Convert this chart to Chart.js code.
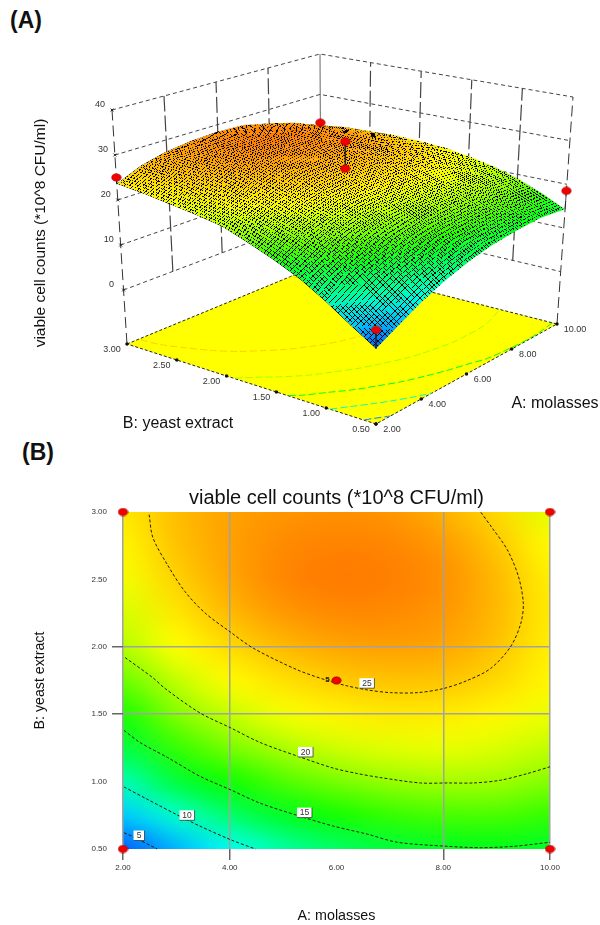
<!DOCTYPE html>
<html>
<head>
<meta charset="utf-8">
<title>viable cell counts</title>
<script src="https://cdn.jsdelivr.net/npm/chart.js@4/dist/chart.umd.min.js"></script>
<style>
body { margin: 0; background: #fff; width: 600px; height: 925px; overflow: hidden; position: relative; font-family: "Liberation Sans", Arial, sans-serif; }
canvas { position: absolute; left: 0; }
.panel { position: absolute; font-weight: bold; font-size: 23px; color: #111; line-height: 26px; }
</style>
</head>
<body>
<div class="panel" style="left:10px;top:7px">(A)</div>
<div class="panel" style="left:22px;top:439px">(B)</div>
<canvas id="surface" width="600" height="460" style="top:0"></canvas>
<canvas id="contour" width="600" height="465" style="top:460px"></canvas>
<script>
// Axis ticks
const aTicks = [2, 4, 6, 8, 10];
const bTicks = [0.5, 1, 1.5, 2, 2.5, 3];
const zTicks = [0, 10, 20, 30, 40];
const zFloor = -12;

// Only these get a grid line on the contour plot
const aGridLines = [2, 4, 8, 10];
const bGridLines = [1.5, 2];

// Response, one row per B value, A = 2..10
const gridA = [2, 3, 4, 5, 6, 7, 8, 9, 10];
const gridB = [3, 2.75, 2.5, 2.25, 2, 1.75, 1.5, 1.25, 1, 0.75, 0.5];
const zAtB300 = [23.6, 26.0, 27.4, 28.1, 28.4, 28.1, 26.7, 24.5, 21.7];
const zAtB275 = [23.0, 25.7, 27.5, 28.7, 29.1, 28.9, 27.9, 25.5, 22.7];
const zAtB250 = [22.2, 24.9, 27.2, 28.9, 29.5, 29.3, 28.4, 26.2, 23.3];
const zAtB225 = [21.4, 23.7, 26.2, 27.9, 28.7, 28.7, 28.0, 26.2, 23.5];
const zAtB200 = [20.4, 22.5, 24.4, 26.2, 27.2, 27.6, 27.2, 25.7, 23.3];
const zAtB175 = [18.4, 20.8, 22.7, 24.1, 25.2, 25.7, 25.6, 24.5, 22.9];
const zAtB150 = [16.2, 19.1, 20.9, 22.2, 23.1, 23.6, 23.5, 22.9, 22.0];
const zAtB125 = [13.7, 16.9, 18.8, 20.2, 21.2, 21.7, 21.9, 21.5, 20.8];
const zAtB100 = [10.5, 13.9, 15.9, 17.6, 18.8, 19.6, 20.0, 19.9, 19.1];
const zAtB075 = [6.9, 9.9, 12.6, 14.5, 16.0, 16.9, 17.4, 17.5, 16.9];
const zAtB050 = [3.6, 6.2, 8.8, 11.0, 12.7, 13.9, 14.6, 14.9, 14.3];
const zRows = [zAtB300, zAtB275, zAtB250, zAtB225, zAtB200, zAtB175, zAtB150, zAtB125, zAtB100, zAtB075, zAtB050];

// Contour lines
const contour25A = [2.49, 2.56, 2.83, 3.16, 3.54, 4.01, 4.44, 5.26, 5.83, 6.20, 6.58, 7.01, 7.52, 8.00, 8.45, 8.89, 9.26, 9.45, 9.50, 9.41, 9.20, 8.92, 8.70];
const contour25B = [2.98, 2.81, 2.61, 2.41, 2.25, 2.11, 1.99, 1.83, 1.75, 1.71, 1.68, 1.66, 1.66, 1.69, 1.75, 1.84, 2.00, 2.17, 2.32, 2.52, 2.72, 2.88, 3.00];
const contour20A = [2.04, 2.56, 2.79, 3.44, 4.01, 4.57, 5.26, 5.94, 6.39, 6.82, 7.57, 8.10, 8.57, 9.07, 9.58, 10.0];
const contour20B = [1.92, 1.77, 1.69, 1.51, 1.40, 1.29, 1.19, 1.10, 1.06, 1.03, 0.99, 0.99, 0.99, 1.01, 1.06, 1.11];
const contour15A = [2.02, 2.32, 2.83, 3.44, 4.01, 4.57, 5.26, 5.94, 6.58, 7.14, 8.08, 8.70, 9.32, 10.0];
const contour15B = [1.38, 1.29, 1.18, 1.04, 0.94, 0.84, 0.75, 0.67, 0.61, 0.55, 0.52, 0.51, 0.52, 0.55];
const contour10A = [2.02, 2.45, 3.03, 3.44, 4.01, 4.48];
const contour10B = [0.96, 0.87, 0.75, 0.67, 0.57, 0.50];
const contour5A = [2.02, 2.19, 2.64];
const contour5B = [0.62, 0.59, 0.50];

// Contour labels
const labelText = ["5", "10", "15", "20", "25"];
const labelA = [2.30, 3.20, 5.40, 5.42, 6.57];
const labelB = [0.60, 0.75, 0.77, 1.22, 1.73];

// Design points, with the fitted height each stick runs to
const designA = [2, 10, 2, 10, 6, 6];
const designB = [0.5, 0.5, 3, 3, 1.75, 1.75];
const designZ = [7.5, 18.5, 25, 23, 32.5, 26.4];
const designFit = [3.6, 14.3, 23.6, 21.7, 26.4, 26.4];

const yTitle3d = "viable cell counts (*10^8 CFU/ml)";
const aTitle = "A: molasses";
const bTitle = "B: yeast extract";

// Box corners on the page, [x, y]
const floorCorners = { a2b05: [376, 424], a10b05: [557, 324], a2b3: [127, 344], a10b3: [321, 264] };
const topCorners = { a2b05: [376, 173], a10b05: [573, 97], a2b3: [112, 110], a10b3: [320, 54] };

const fontName = '"Liberation Sans", Arial, sans-serif';

function project(a, b, z) {
    const u = (a - 2) / 8, v = (b - 0.5) / 2.5, w = (z - zFloor) / (40 - zFloor);
    const mix = (c, i) =>
        (1 - u) * (1 - v) * c.a2b05[i] + u * (1 - v) * c.a10b05[i] +
        (1 - u) * v * c.a2b3[i] + u * v * c.a10b3[i];
    return {
        x: mix(floorCorners, 0) * (1 - w) + mix(topCorners, 0) * w,
        y: mix(floorCorners, 1) * (1 - w) + mix(topCorners, 1) * w
    };
}

// blue > cyan > green > yellow > red
const rampStops = [
    [3.5, 0, 90, 255], [8.5, 0, 255, 255], [15.5, 0, 255, 0], [22.5, 255, 255, 0], [36, 255, 0, 0]
];
function ramp(z) {
    for (let i = 1; i < rampStops.length; i++) {
        if (z <= rampStops[i][0]) {
            const p = rampStops[i - 1], q = rampStops[i];
            const t = Math.max(0, (z - p[0]) / (q[0] - p[0]));
            return "rgb(" + [1, 2, 3].map(k => Math.round(p[k] + (q[k] - p[k]) * t)).join(",") + ")";
        }
    }
    return "rgb(255,0,0)";
}

// One pixel per grid value, scaled up with smoothing when drawn
const heat = document.createElement("canvas");
heat.width = gridA.length;
heat.height = gridB.length;
const heatCtx = heat.getContext("2d");
zRows.forEach((row, j) => row.forEach((z, i) => {
    heatCtx.fillStyle = ramp(z);
    heatCtx.fillRect(i, j, 1, 1);
}));

// Same colours with the dark wire mesh, wrapped onto the 3D surface
const texSize = 560;
const tex = document.createElement("canvas");
tex.width = tex.height = texSize;
const texCtx = tex.getContext("2d");
texCtx.imageSmoothingQuality = "high";
texCtx.drawImage(heat, 0.5, 0.5, heat.width - 1, heat.height - 1, 0, 0, texSize, texSize);
texCtx.fillStyle = "#000";
for (let p = 0; p < texSize; p += 7) {
    texCtx.fillRect(p, 0, 1, texSize);
    texCtx.fillRect(0, p, texSize, 1);
}

function ellipseDot() {
    const c = document.createElement("canvas");
    c.width = 11; c.height = 9;
    const g = c.getContext("2d");
    g.fillStyle = "#f00000";
    g.strokeStyle = "#a00000";
    g.lineWidth = 0.5;
    g.beginPath();
    g.ellipse(5.5, 4.5, 4.8, 3.8, 0, 0, Math.PI * 2);
    g.fill();
    g.stroke();
    return c;
}
const redDot = ellipseDot();

function line3d(pts, color, dash, width) {
    return {
        data: pts.map(p => project(p[0], p[1], p[2])),
        showLine: true, pointRadius: 0, borderColor: color,
        borderWidth: width || 1, borderDash: dash || [], clip: false
    };
}

function surfaceDatasets() {
    const sets = [];

    // Design points and the sticks down to the surface
    sets.push({
        data: designA.map((a, i) => project(a, designB[i], designZ[i])),
        pointStyle: redDot, pointRadius: 5, showLine: false, clip: false
    });
    designA.forEach((a, i) => {
        sets.push(line3d([[a, designB[i], designZ[i]], [a, designB[i], designFit[i]]], "#222", [], 0.8));
    });
    const surfaceIndex = sets.length;

    // Floor contours
    const levels = [[contour25A, contour25B, 25], [contour20A, contour20B, 20], [contour15A, contour15B, 15], [contour10A, contour10B, 10], [contour5A, contour5B, 5]];
    levels.forEach(l => {
        const ds = line3d(l[0].map((a, i) => [a, l[1][i], zFloor]), ramp(l[2]), [7, 3], 1);
        ds.tension = 0.3;
        sets.push(ds);
    });

    // Floor ticks
    const floorTicks = aTicks.map(a => [a, 0.5, zFloor]).concat(bTicks.map(b => [2, b, zFloor]));
    sets.push({
        data: floorTicks.map(p => project(p[0], p[1], p[2])),
        pointStyle: "rect", pointRadius: 1.5, backgroundColor: "#111", borderColor: "#111", showLine: false, clip: false
    });

    // Floor
    const floor = line3d([[2, 3, zFloor], [10, 3, zFloor], [10, 0.5, zFloor], [2, 0.5, zFloor], [2, 3, zFloor]], "#222", [3, 2]);
    floor.fill = "shape";
    floor.backgroundColor = "#ffff00";
    sets.push(floor);

    // Z ticks on the left corner
    sets.push({
        data: zTicks.map(z => project(2, 3, z)),
        pointStyle: "crossRot", pointRadius: 2, borderColor: "#222", showLine: false, clip: false
    });

    // Walls
    zTicks.forEach(z => {
        sets.push(line3d([[2, 3, z], [10, 3, z], [10, 0.5, z]], "#444", [4, 3]));
    });
    aTicks.slice(1, 4).forEach(a => {
        sets.push(line3d([[a, 3, 0], [a, 3, 40]], "#444", [16, 4], 1.2));
    });
    bTicks.slice(1, 5).forEach(b => {
        sets.push(line3d([[10, b, 0], [10, b, 40]], "#444", [16, 4], 1.2));
    });
    sets.push(line3d([[2, 3, zFloor], [2, 3, 40]], "#333", [11, 5]));
    sets.push(line3d([[10, 0.5, zFloor], [10, 0.5, 40]], "#333", [11, 5]));
    sets.push(line3d([[10, 3, zFloor], [10, 3, 40]], "#666", []));

    return { sets, surfaceIndex };
}

const built = surfaceDatasets();

function drawCell(ctx, tri) {
    // tri: three { x, y, u, v } corners, affine wrap of the texture
    const [p0, p1, p2] = tri;
    const den = (p1.u - p0.u) * (p2.v - p0.v) - (p2.u - p0.u) * (p1.v - p0.v);
    const a = ((p1.x - p0.x) * (p2.v - p0.v) - (p2.x - p0.x) * (p1.v - p0.v)) / den;
    const c = ((p2.x - p0.x) * (p1.u - p0.u) - (p1.x - p0.x) * (p2.u - p0.u)) / den;
    const b = ((p1.y - p0.y) * (p2.v - p0.v) - (p2.y - p0.y) * (p1.v - p0.v)) / den;
    const d = ((p2.y - p0.y) * (p1.u - p0.u) - (p1.y - p0.y) * (p2.u - p0.u)) / den;
    const e = p0.x - a * p0.u - c * p0.v;
    const f = p0.y - b * p0.u - d * p0.v;
    const cx = (p0.x + p1.x + p2.x) / 3, cy = (p0.y + p1.y + p2.y) / 3;
    const grow = p => {
        const dx = p.x - cx, dy = p.y - cy, len = Math.hypot(dx, dy) || 1;
        return [p.x + dx / len * 0.6, p.y + dy / len * 0.6];
    };
    ctx.save();
    ctx.beginPath();
    ctx.moveTo(...grow(p0));
    ctx.lineTo(...grow(p1));
    ctx.lineTo(...grow(p2));
    ctx.closePath();
    ctx.clip();
    ctx.transform(a, b, c, d, e, f);
    ctx.drawImage(tex, 0, 0);
    ctx.restore();
}

const surfacePlugin = {
    id: "surfacePlugin",
    afterDatasetDraw(chart, args) {
        if (args.index !== built.surfaceIndex) return;
        const ctx = chart.ctx, xs = chart.scales.x, ys = chart.scales.y;
        const corner = (i, j) => {
            const p = project(gridA[i], gridB[j], zRows[j][i]);
            return {
                x: xs.getPixelForValue(p.x), y: ys.getPixelForValue(p.y),
                u: i / (gridA.length - 1) * texSize, v: j / (gridB.length - 1) * texSize
            };
        };
        ctx.save();
        ctx.imageSmoothingEnabled = false;
        // back to front
        for (let j = 0; j < gridB.length - 1; j++) {
            for (let i = gridA.length - 2; i >= 0; i--) {
                const c00 = corner(i, j), c10 = corner(i + 1, j), c01 = corner(i, j + 1), c11 = corner(i + 1, j + 1);
                drawCell(ctx, [c00, c10, c11]);
                drawCell(ctx, [c00, c11, c01]);
            }
        }
        ctx.restore();
    },
    afterDraw(chart) {
        const ctx = chart.ctx, xs = chart.scales.x, ys = chart.scales.y;
        const put = (text, p, dx, dy) => ctx.fillText(text, xs.getPixelForValue(p.x) + dx, ys.getPixelForValue(p.y) + dy);
        ctx.save();
        ctx.textAlign = "center";
        ctx.textBaseline = "middle";
        ctx.fillStyle = "#333";
        ctx.font = "9px " + fontName;
        zTicks.forEach(z => put(String(z), project(2, 3, z), -12, -5));
        bTicks.forEach(b => put(b.toFixed(2), project(2, b, zFloor), -15, 5.5));
        aTicks.forEach(a => put(a.toFixed(2), project(a, 0.5, zFloor), a === 10 ? 18 : 16, 5.5));
        ctx.fillStyle = "#111";
        ctx.font = "16px " + fontName;
        ctx.fillText(bTitle, 178, 424);
        ctx.fillText(aTitle, 555, 404);
        ctx.translate(41, 233);
        ctx.rotate(-Math.PI / 2);
        ctx.font = "15.5px " + fontName;
        ctx.fillText(yTitle3d, 0, 0);
        ctx.restore();
    }
};

new Chart(document.getElementById("surface"), {
    type: "scatter",
    data: { datasets: built.sets },
    options: {
        responsive: false,
        animation: false,
        layout: { padding: 0, autoPadding: false },
        plugins: { legend: { display: false }, tooltip: { enabled: false } },
        scales: {
            x: { type: "linear", min: 0, max: 600, display: false },
            y: { type: "linear", min: 0, max: 460, reverse: true, display: false }
        }
    },
    plugins: [surfacePlugin]
});

const heatPlugin = {
    id: "heatPlugin",
    beforeDraw(chart) {
        const ctx = chart.ctx, xs = chart.scales.x, ys = chart.scales.y;
        const left = xs.getPixelForValue(gridA[0]), right = xs.getPixelForValue(gridA[gridA.length - 1]);
        const top = ys.getPixelForValue(gridB[0]), bottom = ys.getPixelForValue(gridB[gridB.length - 1]);
        ctx.save();
        ctx.imageSmoothingEnabled = true;
        ctx.imageSmoothingQuality = "high";
        ctx.drawImage(heat, 0.5, 0.5, heat.width - 1, heat.height - 1, left, top, right - left, bottom - top);
        ctx.restore();
    },
    afterDatasetsDraw(chart) {
        const ctx = chart.ctx, xs = chart.scales.x, ys = chart.scales.y;
        ctx.save();
        ctx.textAlign = "center";
        ctx.textBaseline = "middle";
        ctx.font = "8.5px " + fontName;
        labelText.forEach((t, i) => {
            const x = xs.getPixelForValue(labelA[i]), y = ys.getPixelForValue(labelB[i]);
            const w = t.length > 1 ? 15 : 11, h = 10;
            ctx.fillStyle = "#fff";
            ctx.fillRect(x - w / 2, y - h / 2, w, h);
            ctx.strokeStyle = "#222";
            ctx.lineWidth = 0.7;
            ctx.beginPath();
            ctx.moveTo(x - w / 2, y + h / 2);
            ctx.lineTo(x + w / 2, y + h / 2);
            ctx.lineTo(x + w / 2, y - h / 2);
            ctx.stroke();
            ctx.fillStyle = "#333";
            ctx.fillText(t, x, y + 0.5);
        });
        // replicate count beside the centre point
        ctx.fillStyle = "#222";
        ctx.font = "bold 8px " + fontName;
        ctx.fillText("5", xs.getPixelForValue(designA[4]) - 9, ys.getPixelForValue(designB[4]) - 1);
        ctx.restore();
    }
};

const contourLine = (xs, ys) => ({
    data: xs.map((a, i) => ({ x: a, y: ys[i] })),
    showLine: true, pointRadius: 0, borderColor: "#2a1c08", borderWidth: 1,
    borderDash: [3, 2], tension: 0.3, clip: false
});

// Grid and tick only where the reference has them
const gridColor = list => c => (c.tick && list.includes(c.tick.value) ? "#a2a2a2" : "rgba(0,0,0,0)");
const tickColor = list => c => (c.tick && list.includes(c.tick.value) ? "#666" : "rgba(0,0,0,0)");

new Chart(document.getElementById("contour"), {
    type: "scatter",
    data: {
        datasets: [
            {
                data: designA.slice(0, 5).map((a, i) => ({ x: a, y: designB[i] })),
                pointStyle: redDot, pointRadius: 5, showLine: false, clip: false
            },
            contourLine(contour25A, contour25B),
            contourLine(contour20A, contour20B),
            contourLine(contour15A, contour15B),
            contourLine(contour10A, contour10B),
            contourLine(contour5A, contour5B)
        ]
    },
    options: {
        responsive: false,
        animation: false,
        layout: { padding: { right: 50 } },
        plugins: {
            legend: { display: false },
            tooltip: { enabled: false },
            title: {
                display: true,
                text: yTitle3d,
                fullSize: false,
                color: "#111",
                font: { family: fontName, size: 20, weight: "normal" },
                padding: { top: 26, bottom: 2 }
            }
        },
        scales: {
            x: {
                type: "linear", min: 2, max: 10,
                afterBuildTicks: s => { s.ticks = aTicks.map(v => ({ value: v })); },
                afterFit: s => { s.height = 76; },
                grid: { color: gridColor(aGridLines), lineWidth: 1.5, tickLength: 11, tickColor: tickColor(aGridLines) },
                border: { display: false },
                ticks: {
                    callback: v => v.toFixed(2), color: "#333", padding: 3, maxRotation: 0,
                    font: { family: fontName, size: 8 }
                },
                title: {
                    display: true, text: aTitle, color: "#111",
                    font: { family: fontName, size: 14.3, weight: "normal" },
                    padding: { top: 0, bottom: 0 }
                }
            },
            y: {
                type: "linear", min: 0.5, max: 3,
                afterBuildTicks: s => { s.ticks = bTicks.map(v => ({ value: v })); },
                afterFit: s => { s.width = 123; },
                grid: { color: gridColor(bGridLines), lineWidth: 1.5, tickLength: 11, tickColor: tickColor(bGridLines) },
                border: { display: false },
                ticks: {
                    callback: v => v.toFixed(2), color: "#333", padding: 5,
                    font: { family: fontName, size: 8 }
                },
                title: {
                    display: true, text: bTitle, color: "#111",
                    font: { family: fontName, size: 14.2, weight: "normal" },
                    padding: { top: 32, bottom: 0 }
                }
            }
        }
    },
    plugins: [heatPlugin]
});
</script>
</body>
</html>
